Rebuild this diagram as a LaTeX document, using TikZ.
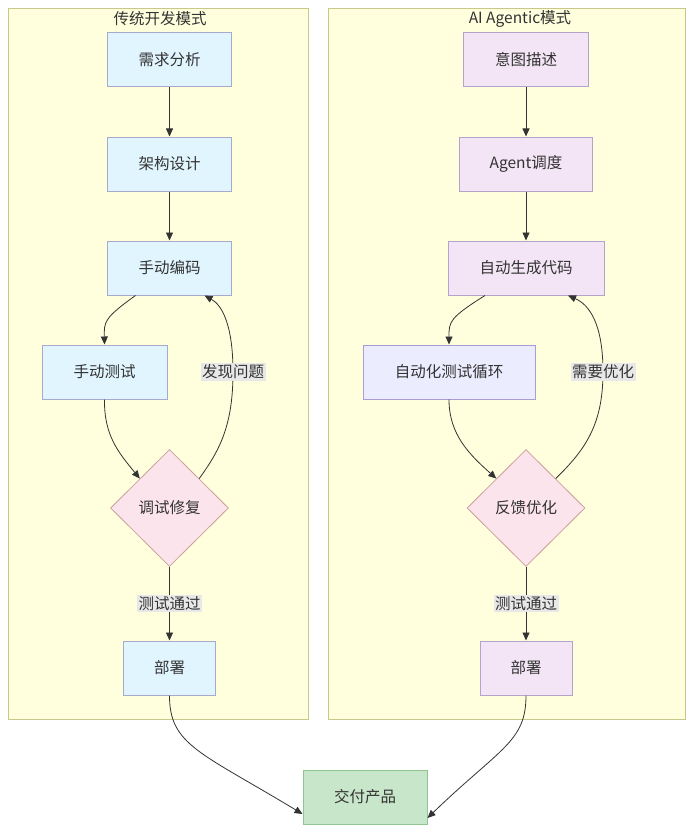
\documentclass[tikz,border=0pt]{standalone}
\usepackage{fontspec}
\setmainfont{Noto Sans CJK SC}
\usetikzlibrary{shapes.geometric,arrows.meta}
\definecolor{clfill}{HTML}{FFFFDE}
\definecolor{cldraw}{HTML}{C8C88A}
\definecolor{bfill}{HTML}{E1F5FE}
\definecolor{bdraw}{HTML}{A9A9CF}
\definecolor{pfill}{HTML}{F3E5F5}
\definecolor{pdraw}{HTML}{B4A4CC}
\definecolor{dfill}{HTML}{ECECFF}
\definecolor{ddraw}{HTML}{A99CD8}
\definecolor{rfill}{HTML}{FCE4EC}
\definecolor{rdraw}{HTML}{C9A09C}
\definecolor{gfill}{HTML}{C8E6C9}
\definecolor{gdraw}{HTML}{8FC591}
\definecolor{txt}{HTML}{333333}
\definecolor{lblbg}{HTML}{E8E8E8}
\definecolor{edge}{HTML}{333333}
\begin{document}
\begin{tikzpicture}[x=1pt,y=-1pt,
  every node/.style={font=\fontsize{15.5}{18}\selectfont, text=txt},
  cluster/.style={draw=cldraw, fill=clfill, line width=0.9pt},
  boxnode/.style={rectangle, draw, line width=1pt, inner sep=0pt, minimum height=54pt},
  bluebox/.style={boxnode, fill=bfill, draw=bdraw},
  purplebox/.style={boxnode, fill=pfill, draw=pdraw},
  defbox/.style={boxnode, fill=dfill, draw=ddraw},
  greenbox/.style={boxnode, fill=gfill, draw=gdraw},
  decide/.style={diamond, draw=rdraw, fill=rfill, line width=0.8pt, inner sep=0pt, minimum width=118pt, minimum height=117pt},
  lbl/.style={fill=lblbg, inner sep=1.5pt},
  arr/.style={draw=edge, line width=0.8pt, -{Triangle[length=8pt,width=7pt]}}
]
\useasboundingbox (0,0) rectangle (693,832);
\fill[white] (0,0) rectangle (693,832);
% clusters
\draw[cluster] (8.5,8.5) rectangle (308,719);
\draw[cluster] (328,8.5) rectangle (685,719);
\node (t1) at (160,19) {传统开发模式};
\node (t2) at (520,19) {AI Agentic模式};
% left nodes
\node[bluebox, minimum width=124pt] (a1) at (169.5,60) {需求分析};
\node[bluebox, minimum width=124pt] (a2) at (169.5,164) {架构设计};
\node[bluebox, minimum width=124pt] (a3) at (169.5,268) {手动编码};
\node[bluebox, minimum width=125pt] (a4) at (104.5,372) {手动测试};
\node[decide] (a5) at (169.5,508) {调试修复};
\node[bluebox, minimum width=92pt] (a6) at (169.5,668) {部署};
% right nodes
\node[purplebox, minimum width=125pt] (b1) at (526,60) {意图描述};
\node[purplebox, minimum width=133pt] (b2) at (526,164) {Agent调度};
\node[purplebox, minimum width=156pt] (b3) at (526,268) {自动生成代码};
\node[defbox, minimum width=172pt] (b4) at (449,372) {自动化测试循环};
\node[decide] (b5) at (526,508) {反馈优化};
\node[purplebox, minimum width=92pt] (b6) at (526,668) {部署};
% final
\node[greenbox, minimum width=124pt] (c) at (365,797) {交付产品};
% left edges
\draw[arr] (a1) -- (a2);
\draw[arr] (a2) -- (a3);
\draw[arr] ([xshift=-34pt]a3.south) .. controls (104,318) and (104,322) .. (a4.north);
\draw[arr] (a4.south) .. controls (104,435) and (118,452) .. (a5.north west);
\draw[arr] (a5.north east) .. controls (220,450) and (233,425) .. (233,372)
  .. controls (233,325) and (222,305) .. ([xshift=35pt]a3.south);
\node[lbl] (l1) at (233,372) {发现问题};
\draw[arr] (a5.south) -- node[lbl] (l2) {测试通过} (a6.north);
% right edges
\draw[arr] (b1) -- (b2);
\draw[arr] (b2) -- (b3);
\draw[arr] ([xshift=-41pt]b3.south) .. controls (449,318) and (449,322) .. (b4.north);
\draw[arr] (b4.south) .. controls (449,435) and (470,455) .. (b5.north west);
\draw[arr] (b5.north east) .. controls (585,450) and (603,425) .. (603,372)
  .. controls (603,325) and (590,305) .. ([xshift=42pt]b3.south);
\node[lbl] (l3) at (603,372) {需要优化};
\draw[arr] (b5.south) -- node[lbl] (l4) {测试通过} (b6.north);
% final edges
\draw[arr] (a6.south) .. controls (169.5,745) and (200,752) .. ([yshift=-17pt]c.west);
\draw[arr] (b6.south) .. controls (526,742) and (500,748) .. ([yshift=-21pt]c.east);
\end{tikzpicture}
\end{document}
